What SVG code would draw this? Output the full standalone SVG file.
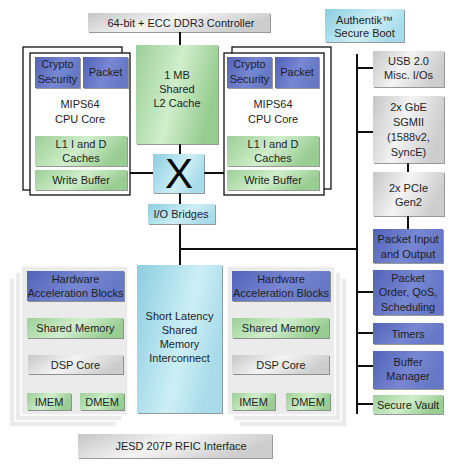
<svg xmlns="http://www.w3.org/2000/svg" width="453" height="469" viewBox="0 0 453 469">
<defs>
<linearGradient id="gBlue" x1="0" y1="0" x2="1" y2="0.3"><stop offset="0" stop-color="#5262b8"/><stop offset="0.6" stop-color="#7787d2"/><stop offset="1" stop-color="#6677c6"/></linearGradient>
<linearGradient id="gGreen" x1="0" y1="0" x2="1" y2="0.3"><stop offset="0" stop-color="#9ccf98"/><stop offset="0.55" stop-color="#d0eecb"/><stop offset="1" stop-color="#98cd92"/></linearGradient>
<linearGradient id="gGray" x1="0" y1="0" x2="1" y2="0.3"><stop offset="0" stop-color="#c6c6c6"/><stop offset="0.5" stop-color="#f4f4f4"/><stop offset="1" stop-color="#cdcdcd"/></linearGradient>
<linearGradient id="gCyan" x1="0" y1="0" x2="1" y2="0.4"><stop offset="0" stop-color="#8ccde0"/><stop offset="0.65" stop-color="#cdeff7"/><stop offset="1" stop-color="#a9dcea"/></linearGradient>
<filter id="sh" x="-10%" y="-10%" width="130%" height="130%"><feDropShadow dx="1" dy="1" stdDeviation="0.3" flood-color="#444" flood-opacity="0.55"/></filter>
<marker id="ah" viewBox="0 0 10 10" refX="5" refY="5" markerWidth="5" markerHeight="5" orient="auto-start-reverse"><path d="M0,0 L10,5 L0,10 z" fill="#222"/></marker>
</defs>
<style>
text{font-family:"Liberation Sans",Arial,sans-serif;font-size:11px;fill:#1e1e1e;text-anchor:middle}
.b{fill:url(#gBlue);filter:url(#sh)}
.g{fill:url(#gGreen);filter:url(#sh)}
.gy{fill:url(#gGray);filter:url(#sh)}
.c{fill:url(#gCyan);filter:url(#sh)}
.fr{fill:#fff;stroke:#111;stroke-width:1.3}
.pn{fill:#ebebeb;stroke:#fff;stroke-width:1.5}
.ln{stroke:#111;stroke-width:2;fill:none}
.ar{stroke:#222;stroke-width:1.8;fill:none;marker-start:url(#ah);marker-end:url(#ah)}
</style>

<g id="ddr3"><rect class="gy" x="88" y="13" width="182" height="19"/><text x="181" y="26.5">64-bit + ECC DDR3 Controller</text></g>
<g id="authentik"><rect class="c" x="325" y="9" width="79" height="33"/><text x="364.5" y="24">Authentik™</text><text x="364.5" y="37">Secure Boot</text></g>

<g id="connectors">
<path class="ln" d="M180,32V45 M180,144V154 M130,173H153 M204,173H224 M180,193V204 M180,224V265 M180,249H357 M357,54V414 M357,68H373 M357,132H373 M408,163V172 M408,216V229 M357,292H373 M357,333H373 M357,366H373 M357,404H373"/>
<path class="ar" d="M75,306V313 M75,343V350 M49,380V387 M101,380V387 M281,306V313 M281,343V350 M254,380V387 M307,380V387"/>
</g>

<g id="cpu-left">
<rect class="fr" x="23" y="47" width="99" height="143"/>
<rect class="fr" x="30" y="53" width="100" height="142"/>
<rect class="b" x="35" y="57" width="45" height="31"/><text x="57.5" y="68">Crypto</text><text x="57.5" y="83">Security</text>
<rect class="b" x="83" y="57" width="45" height="31"/><text x="105.5" y="76">Packet</text>
<text x="80" y="108">MIPS64</text><text x="80" y="123">CPU Core</text>
<rect class="g" x="35" y="136" width="92" height="30"/><text x="81" y="148">L1 I and D</text><text x="81" y="162">Caches</text>
<rect class="g" x="35" y="170" width="92" height="20"/><text x="81" y="184">Write Buffer</text>
</g>

<g id="l2cache"><rect class="g" x="136" y="45" width="82" height="99"/><text x="177" y="79">1 MB</text><text x="177" y="93">Shared</text><text x="177" y="107">L2 Cache</text></g>

<g id="crossbar"><rect class="c" x="153" y="154" width="51" height="39"/><text x="179" y="188" style="font-size:42px;fill:#000">X</text></g>
<g id="io-bridges"><rect class="c" x="148" y="204" width="67" height="20"/><text x="181" y="218">I/O Bridges</text></g>

<g id="cpu-right">
<rect class="fr" x="232" y="47" width="99" height="142"/>
<rect class="fr" x="224" y="53" width="100" height="142"/>
<rect class="b" x="227" y="57" width="45" height="31"/><text x="249.5" y="68">Crypto</text><text x="249.5" y="83">Security</text>
<rect class="b" x="275" y="57" width="44" height="31"/><text x="297" y="76">Packet</text>
<text x="273" y="108">MIPS64</text><text x="273" y="123">CPU Core</text>
<rect class="g" x="227" y="136" width="92" height="30"/><text x="273" y="148">L1 I and D</text><text x="273" y="162">Caches</text>
<rect class="g" x="227" y="170" width="92" height="20"/><text x="273" y="184">Write Buffer</text>
</g>

<g id="usb"><rect class="gy" x="373" y="51" width="71" height="36"/><text x="408.5" y="65">USB 2.0</text><text x="408.5" y="79">Misc. I/Os</text></g>
<g id="gbe"><rect class="gy" x="373" y="96" width="71" height="67"/><text x="408.5" y="111">2x GbE</text><text x="408.5" y="126">SGMII</text><text x="408.5" y="141">(1588v2,</text><text x="408.5" y="156">SyncE)</text></g>
<g id="pcie"><rect class="gy" x="373" y="172" width="71" height="44"/><text x="408.5" y="192">2x PCIe</text><text x="408.5" y="206">Gen2</text></g>
<g id="pkt-io"><rect class="b" x="373" y="229" width="70" height="34"/><text x="408" y="243">Packet Input</text><text x="408" y="258">and Output</text></g>
<g id="pkt-order"><rect class="b" x="373" y="270" width="70" height="45"/><text x="408" y="282">Packet</text><text x="408" y="296">Order, QoS,</text><text x="408" y="311">Scheduling</text></g>
<g id="timers"><rect class="b" x="373" y="323" width="70" height="21"/><text x="408" y="338">Timers</text></g>
<g id="buffer-mgr"><rect class="b" x="373" y="351" width="70" height="38"/><text x="408" y="366">Buffer</text><text x="408" y="380">Manager</text></g>
<g id="secure-vault"><rect class="g" x="373" y="395" width="70" height="19"/><text x="408" y="409">Secure Vault</text></g>

<g id="dsp-left">
<rect class="pn" x="9" y="278" width="107" height="149"/>
<rect class="pn" x="15" y="272" width="107" height="149"/>
<rect class="pn" x="21" y="266" width="107" height="149"/>
<rect class="b" x="27" y="271" width="97" height="30"/><text x="75.5" y="283">Hardware</text><text x="75.5" y="297">Acceleration Blocks</text>
<rect class="g" x="27" y="318" width="96" height="20"/><text x="75.5" y="332">Shared Memory</text>
<rect class="gy" x="28" y="355" width="95" height="19"/><text x="75.5" y="369">DSP Core</text>
<rect class="g" x="27" y="393" width="44" height="17"/><text x="49" y="406">IMEM</text>
<rect class="g" x="80" y="393" width="44" height="17"/><text x="102" y="406">DMEM</text>
</g>

<g id="interconnect"><rect class="c" x="137" y="265" width="85" height="148"/><text x="179.5" y="320">Short Latency</text><text x="179.5" y="334">Shared</text><text x="179.5" y="348">Memory</text><text x="179.5" y="362">Interconnect</text></g>

<g id="dsp-right">
<rect class="pn" x="239" y="278" width="108" height="149"/>
<rect class="pn" x="233" y="272" width="108" height="149"/>
<rect class="pn" x="227" y="266" width="108" height="149"/>
<rect class="b" x="232" y="271" width="98" height="30"/><text x="281" y="283">Hardware</text><text x="281" y="297">Acceleration Blocks</text>
<rect class="g" x="232" y="318" width="97" height="20"/><text x="281" y="332">Shared Memory</text>
<rect class="gy" x="232" y="355" width="97" height="19"/><text x="281" y="369">DSP Core</text>
<rect class="g" x="232" y="393" width="43" height="17"/><text x="253.5" y="406">IMEM</text>
<rect class="g" x="286" y="393" width="44" height="17"/><text x="308" y="406">DMEM</text>
</g>

<g id="jesd"><rect class="gy" x="78" y="434" width="194" height="24"/><text x="181" y="450">JESD 207P RFIC Interface</text></g>
</svg>
